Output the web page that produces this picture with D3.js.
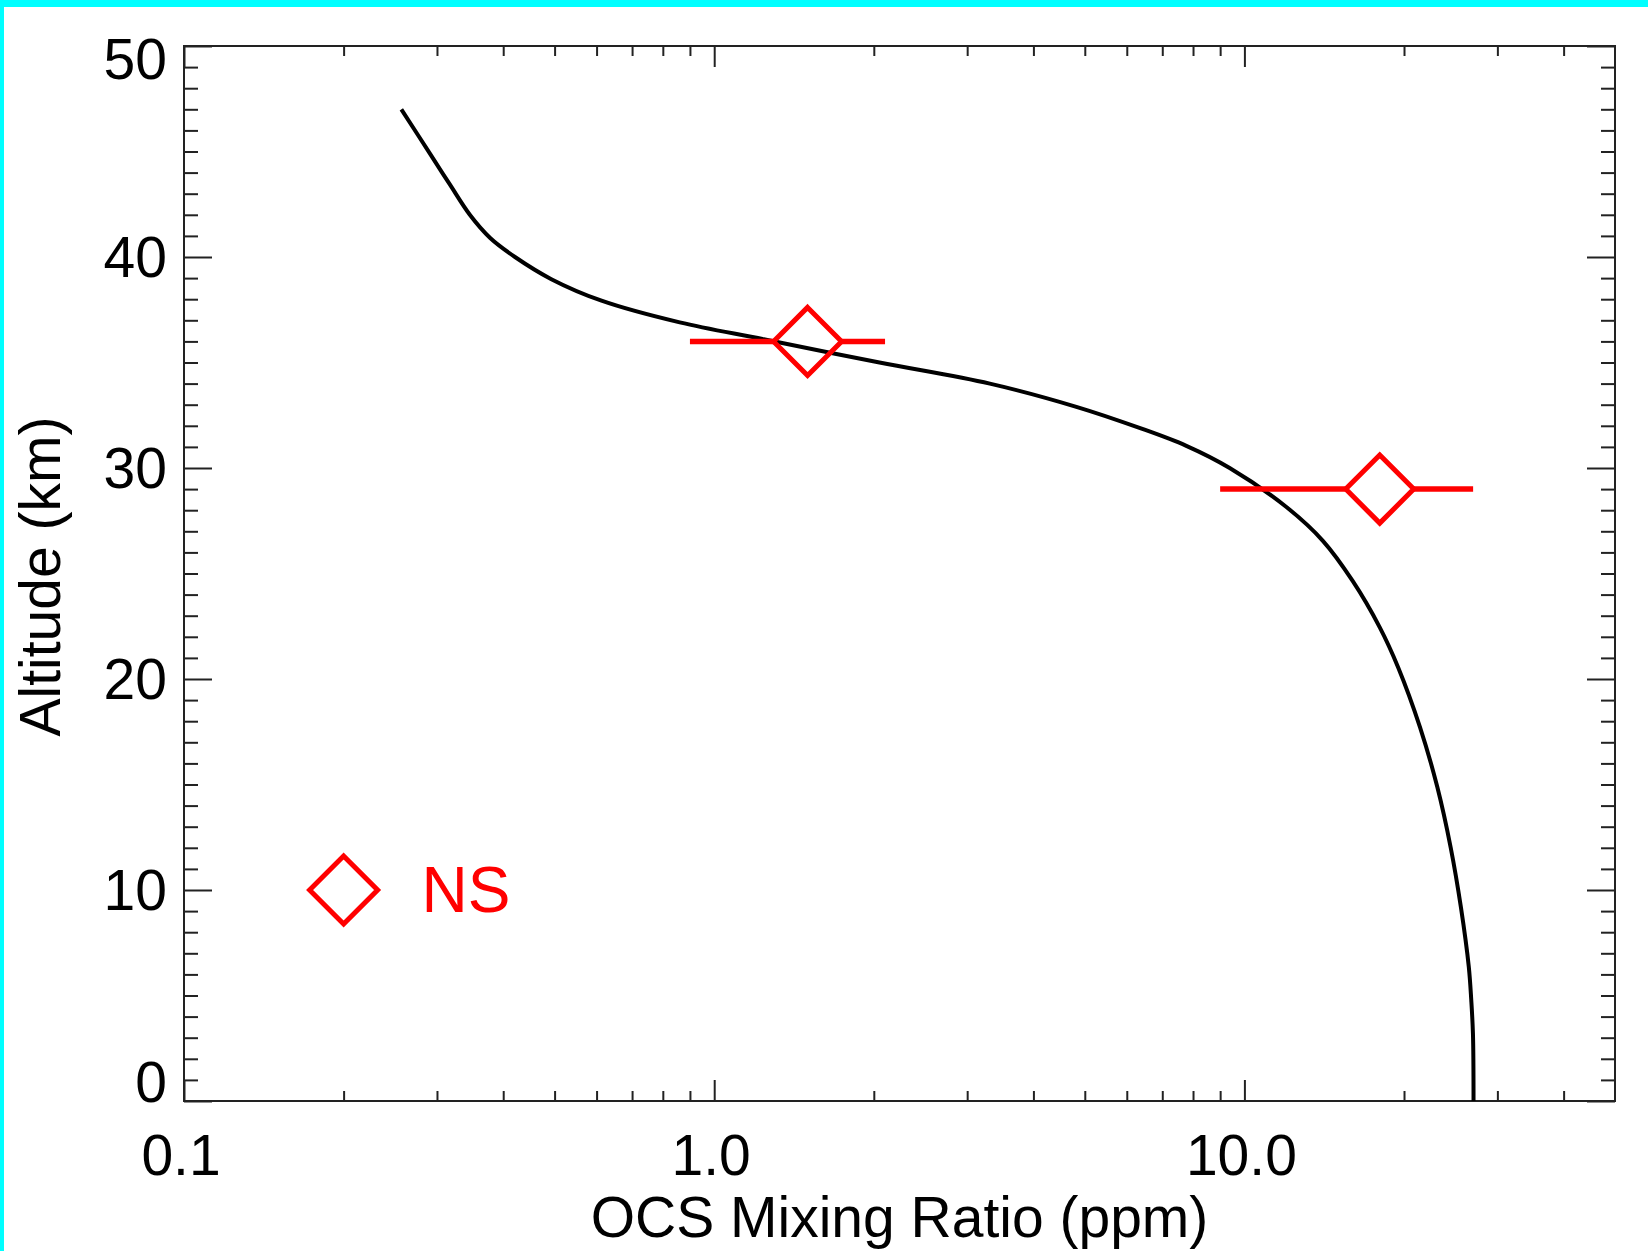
<!DOCTYPE html>
<html>
<head>
<meta charset="utf-8">
<script src="https://cdn.jsdelivr.net/npm/d3@7"></script>
<style>
  html, body { margin: 0; padding: 0; background: #fff; }
  svg { display: block; }
  text { font-family: "Liberation Sans", Arial, Helvetica, sans-serif; }
</style>
</head>
<body>
<script>
// ---- data ----
const profileAlt   = [47.0, 44.9, 43.45, 42.0, 40.9, 40.0, 38.95, 37.93, 36.9, 36.1, 35.0, 34.0, 32.9, 31.9, 31.05, 30.0, 28.15, 26.55, 24.65, 22.45, 20.55, 17.7, 14.9, 12.0, 9.2, 6.35, 4.8, 3.2, 0.0];
const profileOCS   = [0.257, 0.291, 0.317, 0.346, 0.378, 0.421, 0.493, 0.613, 0.861, 1.24, 2.05, 3.31, 4.82, 6.34, 7.77, 9.38, 12.0, 14.06, 16.0, 18.0, 19.5, 21.45, 23.1, 24.5, 25.6, 26.5, 26.78, 26.98, 27.05];
const obsAlt       = [36, 29];
const obsOCS       = [1.5, 18];
const obsErrLow    = [0.9, 9];
const obsErrHigh   = [2.1, 27];
const legendLabel  = "NS";
const legendPos    = [0.2, 10];   // data coords of legend symbol
const xMajorTicks  = [0.1, 1, 10];
const xMajorLabels = ["0.1", "1.0", "10.0"];
const xMinorTicks  = [0.2,0.3,0.4,0.5,0.6,0.7,0.8,0.9,2,3,4,5,6,7,8,9,20,30,40];
const yMajorTicks  = [0, 10, 20, 30, 40, 50];
const yMajorLabels = ["0", "10", "20", "30", "40", "50"];
const yMinorTicks  = d3.range(0, 51).filter(v => v % 10 !== 0);
const xTitle = "OCS Mixing Ratio (ppm)";
const yTitle = "Altitude (km)";

// ---- layout ----
const W = 1648, H = 1251;
const L = 184, R = 1615, T = 46, B = 1101;
const FS = 57;

const svg = d3.select("body").append("svg").attr("width", W).attr("height", H);
svg.append("rect").attr("width", W).attr("height", H).attr("fill", "#fff");
// cyan edge strips
svg.append("rect").attr("x", 0).attr("y", 0).attr("width", W).attr("height", 7).attr("fill", "#00ffff");
svg.append("rect").attr("x", 0).attr("y", 0).attr("width", 4).attr("height", H).attr("fill", "#00ffff");

const x = d3.scaleLog().domain([0.1, 50]).range([L, R]);
const y = d3.scaleLinear().domain([0, 50]).range([B, T]);

const axisColor = "#222";
function styleAxis(g) {
  g.select(".domain").remove();
  g.selectAll("line").attr("stroke", axisColor).attr("stroke-width", 2);
  g.selectAll("text").remove();
}
// bottom
svg.append("g").attr("transform", `translate(0,${B})`)
  .call(d3.axisBottom(x).tickValues(xMajorTicks).tickSizeInner(-21).tickSizeOuter(0).tickFormat("")).call(styleAxis);
svg.append("g").attr("transform", `translate(0,${B})`)
  .call(d3.axisBottom(x).tickValues(xMinorTicks).tickSizeInner(-10).tickSizeOuter(0).tickFormat("")).call(styleAxis);
// top
svg.append("g").attr("transform", `translate(0,${T})`)
  .call(d3.axisTop(x).tickValues(xMajorTicks).tickSizeInner(-21).tickSizeOuter(0).tickFormat("")).call(styleAxis);
svg.append("g").attr("transform", `translate(0,${T})`)
  .call(d3.axisTop(x).tickValues(xMinorTicks).tickSizeInner(-10).tickSizeOuter(0).tickFormat("")).call(styleAxis);
// left
svg.append("g").attr("transform", `translate(${L},0)`)
  .call(d3.axisLeft(y).tickValues(yMajorTicks).tickSizeInner(-28).tickSizeOuter(0).tickFormat("")).call(styleAxis);
svg.append("g").attr("transform", `translate(${L},0)`)
  .call(d3.axisLeft(y).tickValues(yMinorTicks).tickSizeInner(-14).tickSizeOuter(0).tickFormat("")).call(styleAxis);
// right
svg.append("g").attr("transform", `translate(${R},0)`)
  .call(d3.axisRight(y).tickValues(yMajorTicks).tickSizeInner(-28).tickSizeOuter(0).tickFormat("")).call(styleAxis);
svg.append("g").attr("transform", `translate(${R},0)`)
  .call(d3.axisRight(y).tickValues(yMinorTicks).tickSizeInner(-14).tickSizeOuter(0).tickFormat("")).call(styleAxis);

// frame
svg.append("rect").attr("x", L).attr("y", T).attr("width", R - L).attr("height", B - T)
  .attr("fill", "none").attr("stroke", axisColor).attr("stroke-width", 2);

// tick labels
svg.append("g").selectAll("text").data(xMajorTicks).join("text")
  .attr("x", d => x(d) - 3).attr("y", 1175)
  .attr("text-anchor", "middle").attr("font-size", FS).attr("fill", "#000")
  .text((d, i) => xMajorLabels[i]);

const yLabelShift = v => v === 0 ? 1 : (v === 50 ? 33 : 20);
svg.append("g").selectAll("text").data(yMajorTicks).join("text")
  .attr("x", 167).attr("y", d => y(d) + yLabelShift(d))
  .attr("text-anchor", "end").attr("font-size", FS).attr("fill", "#000")
  .text((d, i) => yMajorLabels[i]);

// axis titles
svg.append("text").attr("x", (L + R) / 2).attr("y", 1237)
  .attr("text-anchor", "middle").attr("font-size", FS).attr("fill", "#000").text(xTitle);
svg.append("text").attr("transform", `translate(60,${(T + B) / 2 + 3}) rotate(-90)`)
  .attr("text-anchor", "middle").attr("font-size", FS).attr("fill", "#000").text(yTitle);

// model profile
const profile = profileAlt.map((a, i) => ({ alt: a, v: profileOCS[i] }));
svg.append("path").datum(profile)
  .attr("d", d3.line().x(d => x(d.v)).y(d => y(d.alt)).curve(d3.curveCatmullRom.alpha(0.5)))
  .attr("fill", "none").attr("stroke", "#000").attr("stroke-width", 4)
  .attr("stroke-linejoin", "round");

// observations
const red = "#ff0000";
const HALF = 34;
function diamond(cx, cy) {
  return `M${cx},${cy - HALF}L${cx + HALF},${cy}L${cx},${cy + HALF}L${cx - HALF},${cy}Z`;
}
const obs = obsAlt.map((a, i) => ({ alt: a, v: obsOCS[i], lo: obsErrLow[i], hi: obsErrHigh[i] }));
const og = svg.append("g");
og.selectAll("line.errL").data(obs).join("line")
  .attr("x1", d => x(d.lo)).attr("x2", d => x(d.v) - HALF)
  .attr("y1", d => y(d.alt)).attr("y2", d => y(d.alt))
  .attr("stroke", red).attr("stroke-width", 5.5);
og.selectAll("line.errR").data(obs).join("line")
  .attr("x1", d => x(d.v) + HALF).attr("x2", d => x(d.hi))
  .attr("y1", d => y(d.alt)).attr("y2", d => y(d.alt))
  .attr("stroke", red).attr("stroke-width", 5.5);
og.selectAll("path").data(obs).join("path")
  .attr("d", d => diamond(x(d.v), y(d.alt)))
  .attr("fill", "none").attr("stroke", red).attr("stroke-width", 5).attr("stroke-linejoin", "miter");

// legend
svg.append("path").attr("d", diamond(x(legendPos[0]), y(legendPos[1])))
  .attr("fill", "none").attr("stroke", red).attr("stroke-width", 5);
svg.append("text").attr("x", x(legendPos[0]) + 78).attr("y", y(legendPos[1]) + 22)
  .attr("font-size", 64).attr("fill", red).text(legendLabel);
</script>
</body>
</html>
